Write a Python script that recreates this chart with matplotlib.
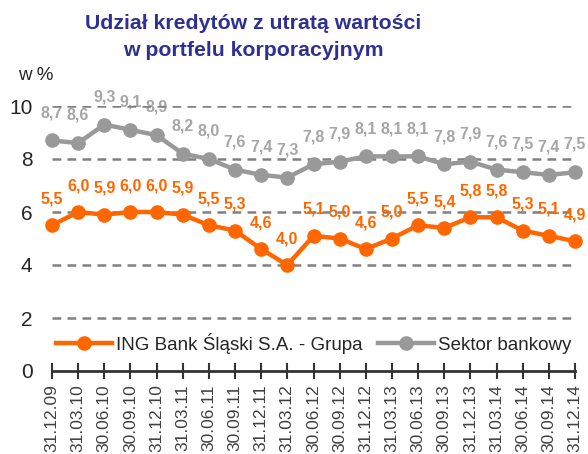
import matplotlib
matplotlib.use('Agg')
import matplotlib.pyplot as plt

plt.rcParams['font.family'] = ['Liberation Sans', 'DejaVu Sans']

dates = ['31.12.09', '31.03.10', '30.06.10', '30.09.10', '31.12.10', '31.03.11',
         '30.06.11', '30.09.11', '31.12.11', '31.03.12', '30.06.12', '30.09.12',
         '31.12.12', '31.03.13', '30.06.13', '30.09.13', '31.12.13', '31.03.14',
         '30.06.14', '30.09.14', '31.12.14']
ing = [5.5, 6.0, 5.9, 6.0, 6.0, 5.9, 5.5, 5.3, 4.6, 4.0, 5.1,
       5.0, 4.6, 5.0, 5.5, 5.4, 5.8, 5.8, 5.3, 5.1, 4.9]
sektor = [8.7, 8.6, 9.3, 9.1, 8.9, 8.2, 8.0, 7.6, 7.4, 7.3, 7.8,
          7.9, 8.1, 8.1, 8.1, 7.8, 7.9, 7.6, 7.5, 7.4, 7.5]

orange = '#ff6600'
grey = '#999999'
x = list(range(len(dates)))

fig = plt.figure(figsize=(5.88, 4.54), dpi=100)
ax = fig.add_axes([52/588, 1 - 371/454, (575 - 52)/588, (371 - 106)/454])

# dashed grid, drawn by hand so the 0 line stays the solid axis
for yv in [2, 4, 6, 8, 10]:
    ax.axhline(yv, color='#808080', lw=1.8, ls=(0, (3.5, 2.5)), zorder=1)

ax.plot(x, ing, color=orange, lw=3.2, marker='o', ms=9.5, clip_on=False,
        zorder=3, label='ING Bank Śląski S.A. - Grupa')
ax.plot(x, sektor, color=grey, lw=3.2, marker='o', ms=9.5, clip_on=False,
        zorder=3, label='Sektor bankowy')

for xi, v in zip(x, ing):
    ax.annotate(f'{v:.1f}'.replace('.', ','), (xi, v), xytext=(0, 19),
                textcoords='offset points', ha='center', va='center',
                color=orange, fontsize=11.5, fontweight='bold', zorder=4)
for xi, v in zip(x, sektor):
    ax.annotate(f'{v:.1f}'.replace('.', ','), (xi, v), xytext=(0, 20),
                textcoords='offset points', ha='center', va='center',
                color='#a6a6a6', fontsize=11.5, fontweight='bold', zorder=0)

ax.set_xlim(0, len(dates) - 1)
ax.set_ylim(0, 10)
ax.set_xticks(x)
ax.set_xticklabels(dates, rotation=90, fontsize=12.5, color='#404040')
ax.set_yticks([0, 2, 4, 6, 8, 10])
ax.tick_params(axis='y', length=0, pad=14, labelsize=15, labelcolor='#262626')
ax.tick_params(axis='x', direction='inout', length=11, width=1.5,
               color='#333333', pad=4)

for s in ['top', 'right', 'left']:
    ax.spines[s].set_visible(False)
ax.spines['bottom'].set_color('#333333')
ax.spines['bottom'].set_linewidth(2)

ax.legend(loc='center', bbox_to_anchor=(0.5, 0.105), ncol=2, frameon=False,
          fontsize=13.5, handlelength=3, handletextpad=0.2, columnspacing=0.8,
          labelcolor='#262626')

fig.text(253/588, 1 - 37/454, 'Udział kredytów z utratą wartości\nw portfelu korporacyjnym',
         ha='center', va='center', fontsize=15.3, fontweight='bold',
         color='#2e3192', linespacing=1.5)
fig.text(18/588, 1 - 75/454, 'w %', ha='left', va='center', fontsize=13.5,
         color='#262626')

fig.savefig('out.png', dpi=100)
